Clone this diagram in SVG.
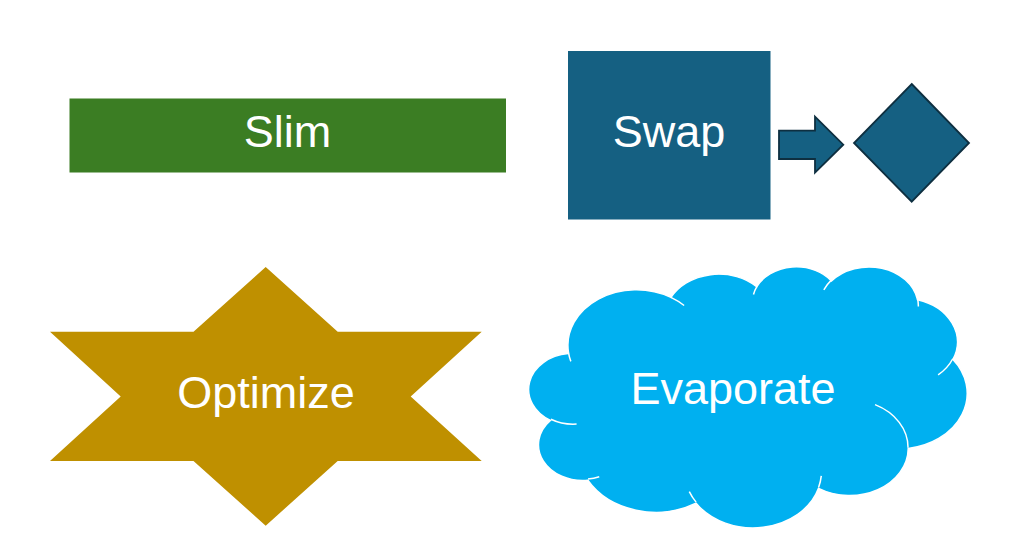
<svg xmlns="http://www.w3.org/2000/svg" width="1024" height="548" viewBox="0 0 1024 548">
<style>
.lbl{font-family:"Liberation Sans",Arial,sans-serif;font-size:45px;fill:#FFFFFF;text-anchor:middle}
.dark{fill:#156082;stroke:#0E2F40;stroke-width:1.8;stroke-linejoin:miter}
</style>
<rect width="1024" height="548" fill="#FFFFFF"/>
<g id="slim">
<rect x="69.5" y="98.5" width="436.5" height="74" fill="#3B7D23"/>
<text class="lbl" x="287.5" y="147">Slim</text>
</g>
<g id="swap">
<rect x="568" y="51" width="202.5" height="168.5" fill="#156082"/>
<text class="lbl" x="669" y="147">Swap</text>
</g>
<g id="connectors">
<polygon class="dark" points="779,130.7 815,130.7 815,116.7 843.3,144.7 815,172.7 815,159 779,159"/>
</g>
<g id="diamond">
<polygon class="dark" points="911.7,84 969,143 911.7,201.7 854,143"/>
</g>
<g id="optimize">
<polygon fill="#BF9000" points="265.7,267 337.7,331.7 481.7,331.7 410.7,396.5 481.7,461 337.7,461 265.7,525.7 193.5,461 50,461 120.7,396.5 50,331.7 193.5,331.7"/>
<text class="lbl" x="266" y="408">Optimize</text>
</g>
<g id="evaporate">
<g transform="translate(529,266) scale(0.010139,0.00604)">
<path fill="#00B0F0" stroke="#FFFFFF" stroke-width="1.5" vector-effect="non-scaling-stroke" d="M3900,14370 A6753,9190 0 0,1 14005,5202 A5333,7267 0 0,1 22455,3435 A4365,5945 0 0,1 29833,2484 A4857,6595 0 0,1 38318,5580 A5333,7273 0 0,1 41819,15463 A6775,9220 0 0,1 37403,30204 A5785,7867 0 0,1 28555,36814 A6752,9215 0 0,1 16480,39267 A7720,10543 0 0,1 5804,35472 A4360,5918 0 0,1 2113,25550 A4345,5945 0 0,1 3863,14506 Z"/>
<path fill="none" stroke="#FFFFFF" stroke-width="1.5" vector-effect="non-scaling-stroke" d="M4693,26177 A4345,5945 0 0,1 2160,25380 M6928,34899 A4360,5918 0 0,1 5820,35280 M16478,39090 A6752,9215 0 0,1 15810,37349 M28827,34751 A6752,9215 0 0,1 28560,36660 M34129,22954 A5785,7867 0 0,1 37381,30090 M41798,15354 A5333,7273 0 0,1 40350,18030 M38324,5426 A4857,6595 0 0,1 38401,6690 M29078,3952 A4857,6595 0 0,1 29820,2339 M22141,4720 A4365,5945 0 0,1 22500,3331 M14000,5192 A6753,9190 0 0,1 15300,6540 M4127,15789 A6753,9190 0 0,1 3900,14371"/>
</g>
<text class="lbl" x="733" y="404">Evaporate</text>
</g>
</svg>
